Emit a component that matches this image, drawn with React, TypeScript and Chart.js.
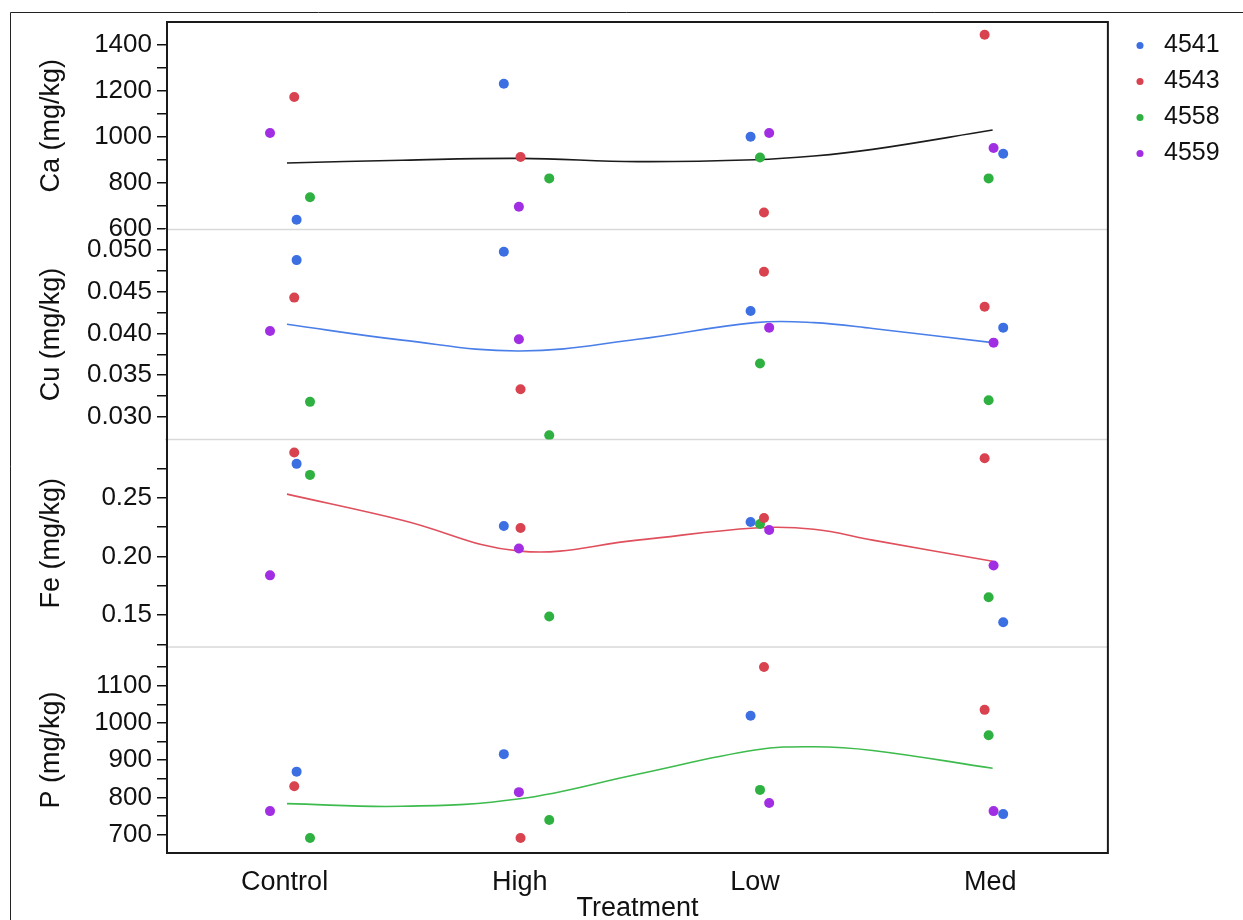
import { useEffect, useRef } from 'react';
import { Chart, registerables } from 'chart.js';

Chart.register(...registerables);
Chart.defaults.font.family = '"Liberation Sans", Arial, sans-serif';

// Categories and samples
const categories = ['Control', 'High', 'Low', 'Med'];
const samples = ['4541', '4543', '4558', '4559'];
const sampleColors = ['#3c6fe2', '#d8434f', '#2eb140', '#a12ee3'];

// Horizontal jitter (in category units) per sample, per treatment
const jitter4541 = [0.051, -0.068, -0.019, 0.055];
const jitter4543 = [0.041, 0.003, 0.038, -0.024];
const jitter4558 = [0.108, 0.125, 0.021, -0.007];
const jitter4559 = [-0.062, -0.004, 0.06, 0.014];
const jitters = [jitter4541, jitter4543, jitter4558, jitter4559];

// Ca (mg/kg)
const ca4541 = [639, 1230, 1000, 926];
const ca4543 = [1173, 912, 671, 1443];
const ca4558 = [737, 819, 910, 819];
const ca4559 = [1016, 696, 1016, 951];
// Cu (mg/kg)
const cu4541 = [0.0488, 0.0498, 0.0427, 0.0407];
const cu4543 = [0.0443, 0.0333, 0.0474, 0.0432];
const cu4558 = [0.0318, 0.0278, 0.0364, 0.032];
const cu4559 = [0.0403, 0.0393, 0.0407, 0.0389];
// Fe (mg/kg)
const fe4541 = [0.279, 0.2261, 0.2295, 0.144];
const fe4543 = [0.2887, 0.2244, 0.2329, 0.2838];
const fe4558 = [0.2696, 0.149, 0.2278, 0.1653];
const fe4559 = [0.184, 0.2069, 0.2227, 0.1924];
// P (mg/kg)
const p4541 = [869, 916, 1019, 755];
const p4543 = [830, 691, 1150, 1035];
const p4558 = [691, 739, 820, 967];
const p4559 = [763, 814, 785, 763];

// Smooth fit curves, read at these x positions
const fitX = [0.01, 0.5, 1, 1.5, 2, 2.25, 2.5, 3.01];
const caFit = [886, 898, 906, 892, 900, 916, 945, 1029];
const cuFit = [0.0411, 0.0392, 0.0379, 0.0393, 0.0413, 0.0413, 0.0406, 0.0389];
const feFit = [0.2532, 0.231, 0.2046, 0.214, 0.2244, 0.2233, 0.214, 0.196];
const pFit = [783, 776, 796, 862, 927, 936, 926, 878];

// Tick labels
const caMajor = [600, 800, 1000, 1200, 1400];
const caMinor = [700, 900, 1100, 1300];
const cuMajor = [0.03, 0.035, 0.04, 0.045, 0.05];
const cuMinor = [0.0325, 0.0375, 0.0425, 0.0475];
const feMajor = [0.15, 0.2, 0.25];
const feMinor = [0.125, 0.175, 0.225, 0.275];
const pMajor = [700, 800, 900, 1000, 1100];
const pMinor = [750, 850, 950, 1050, 1150];

const panels = [
  { id: 'yCa', title: 'Ca (mg/kg)', values: [ca4541, ca4543, ca4558, ca4559], fit: caFit, fitColor: '#1b1b1b', min: 596.5, max: 1498.7, major: caMajor, minor: caMinor, dec: 0, weight: 207.5 },
  { id: 'yCu', title: 'Cu (mg/kg)', values: [cu4541, cu4543, cu4558, cu4559], fit: cuFit, fitColor: '#4a7ee8', min: 0.02729, max: 0.05246, major: cuMajor, minor: cuMinor, dec: 3, weight: 209.8 },
  { id: 'yFe', title: 'Fe (mg/kg)', values: [fe4541, fe4543, fe4558, fe4559], fit: feFit, fitColor: '#df4f5c', min: 0.123, max: 0.2998, major: feMajor, minor: feMinor, dec: 2, weight: 207.4 },
  { id: 'yP', title: 'P (mg/kg)', values: [p4541, p4543, p4558, p4559], fit: pFit, fitColor: '#3dbb4c', min: 650.5, max: 1204, major: pMajor, minor: pMinor, dec: 0, weight: 206 },
];

function buildDatasets() {
  const ds: any[] = [];
  panels.forEach((p) => {
    samples.forEach((s, si) => {
      ds.push({
        label: s,
        yAxisID: p.id,
        data: categories.map((_, ci) => ({ x: ci + jitters[si][ci], y: p.values[si][ci] })),
        backgroundColor: sampleColors[si],
        borderColor: sampleColors[si],
        borderWidth: 0,
        pointRadius: 5,
        pointHoverRadius: 5,
      });
    });
  });
  panels.forEach((p) => {
    ds.push({
      label: p.id + ' fit',
      yAxisID: p.id,
      data: fitX.map((x, i) => ({ x, y: p.fit[i] })),
      showLine: true,
      pointRadius: 0,
      borderColor: p.fitColor,
      backgroundColor: p.fitColor,
      borderWidth: 1.6,
      tension: 0.4,
      fill: false,
    });
  });
  return ds;
}

function buildScales() {
  const scales: any = {
    x: {
      type: 'linear',
      min: -0.5,
      max: 3.5,
      afterBuildTicks: (s: any) => {
        s.ticks = categories.map((_, i) => ({ value: i }));
      },
      afterFit: (s: any) => {
        s.height = 67;
      },
      ticks: {
        callback: (v: any) => categories[v],
        font: { size: 27 },
        color: '#111',
        padding: 5,
        autoSkip: false,
        maxRotation: 0,
      },
      grid: { display: false },
      border: { display: false },
      title: { display: true, text: 'Treatment', font: { size: 27, lineHeight: 0.85 }, padding: 0, color: '#111' },
    },
  };
  [...panels].reverse().forEach((p) => {
    const all = [...p.major, ...p.minor].sort((a, b) => a - b);
    scales[p.id] = {
      type: 'linear',
      position: 'left',
      stack: 'panels',
      stackWeight: p.weight,
      min: p.min,
      max: p.max,
      afterBuildTicks: (s: any) => {
        s.ticks = all.map((v) => ({ value: v }));
      },
      afterFit: (s: any) => {
        s.width = 136;
      },
      ticks: {
        callback: (v: any) => (p.major.includes(v) ? Number(v).toFixed(p.dec) : ''),
        font: { size: 26 },
        color: '#111',
        padding: 5,
        autoSkip: false,
      },
      grid: { display: true, drawOnChartArea: false, drawTicks: true, tickLength: 10, color: '#111', lineWidth: 1.5 },
      border: { display: false },
      title: { display: true, text: p.title, font: { size: 27 }, color: '#111', padding: { top: 4, bottom: 4 } },
    };
  });
  return scales;
}

const framePlugin = {
  id: 'frame',
  afterLayout(chart: any) {
    const lg = chart.legend;
    if (lg) {
      const natural = lg.left + 11 + 11.5;
      const shift = 1140 - natural;
      lg.left += shift;
      lg.right += shift;
    }
  },
  beforeDraw(chart: any) {
    const ctx = chart.ctx;
    ctx.save();
    ctx.strokeStyle = '#222';
    ctx.lineWidth = 1;
    ctx.beginPath();
    ctx.moveTo(10.5, chart.height);
    ctx.lineTo(10.5, 12.5);
    ctx.lineTo(chart.width, 12.5);
    ctx.stroke();
    ctx.restore();
  },
  beforeDatasetsDraw(chart: any) {
    const ctx = chart.ctx;
    const a = chart.chartArea;
    ctx.save();
    ctx.strokeStyle = '#d9d9d9';
    ctx.lineWidth = 1.5;
    panels.forEach((p) => {
      const sc = chart.scales[p.id];
      if (Math.abs(sc.bottom - a.bottom) > 2) {
        ctx.beginPath();
        ctx.moveTo(a.left - 2, sc.bottom);
        ctx.lineTo(a.right, sc.bottom);
        ctx.stroke();
      }
    });
    ctx.restore();
  },
  afterDraw(chart: any) {
    const ctx = chart.ctx;
    const a = chart.chartArea;
    ctx.save();
    ctx.strokeStyle = '#1a1a1a';
    ctx.lineWidth = 2;
    ctx.strokeRect(a.left, a.top, a.right - a.left, a.bottom - a.top);
    ctx.restore();
  },
};

export default function App() {
  const ref = useRef<HTMLCanvasElement>(null);
  useEffect(() => {
    if (!ref.current) return;
    const chart = new Chart(ref.current, {
      type: 'scatter',
      data: { datasets: buildDatasets() },
      options: {
        responsive: false,
        animation: false,
        devicePixelRatio: 1,
        events: [],
        layout: { padding: { left: 31, top: 22, right: 23, bottom: 0 } },
        scales: buildScales(),
        plugins: {
          tooltip: { enabled: false },
          legend: {
            position: 'right',
            align: 'start',
            labels: {
              usePointStyle: true,
              boxWidth: 23,
              boxHeight: 5,
              padding: 11,
              font: { size: 25 },
              color: '#111',
              filter: (item: any) => item.datasetIndex < 4,
            },
          },
        },
      } as any,
      plugins: [framePlugin],
    });
    return () => chart.destroy();
  }, []);
  return (
    <div style={{ position: 'fixed', left: 0, top: 0, width: 1243, height: 920, background: '#fff' }}>
      <canvas ref={ref} width={1243} height={920} style={{ display: 'block', width: 1243, height: 920 }} />
    </div>
  );
}
